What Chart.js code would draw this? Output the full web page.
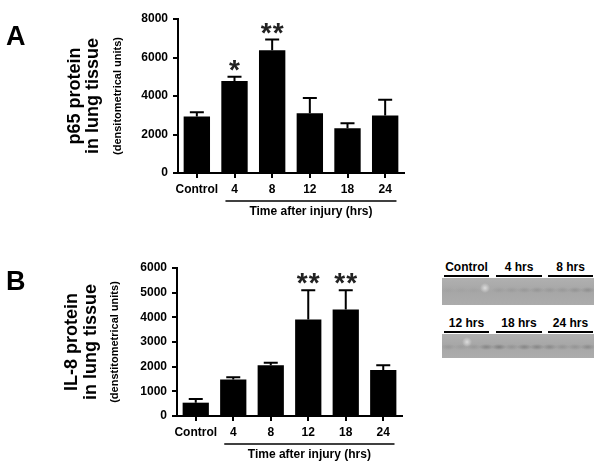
<!DOCTYPE html>
<html>
<head>
<meta charset="utf-8">
<script src="https://cdn.jsdelivr.net/npm/chart.js@4.4.1/dist/chart.umd.min.js"></script>
<style>
  body { margin: 0; background: #fff; width: 600px; height: 464px; position: relative; overflow: hidden;
         font-family: "Liberation Sans", Arial, sans-serif; }
  #chartA { position: absolute; left: 0; top: 0; }
  #chartB { position: absolute; left: 0; top: 240px; }
  .lbl { position: absolute; height: 13px; line-height: 13px; padding-bottom: 1px; text-align: center;
         font-weight: bold; font-size: 12px; border-bottom: 2px solid #000; }
  .band { position: absolute; left: 442px; }
</style>
</head>
<body>
<canvas id="chartA" width="420" height="230"></canvas>
<canvas id="chartB" width="420" height="224"></canvas>

<div class="lbl" style="left:444px; top:261px; width:45px;">Control</div>
<div class="lbl" style="left:496px; top:261px; width:46px;">4 hrs</div>
<div class="lbl" style="left:548px; top:261px; width:45px;">8 hrs</div>
<canvas class="band" id="blot1" width="152" height="27" style="top:278px;"></canvas>

<div class="lbl" style="left:444px; top:317px; width:45px;">12 hrs</div>
<div class="lbl" style="left:496px; top:317px; width:46px;">18 hrs</div>
<div class="lbl" style="left:548px; top:317px; width:45px;">24 hrs</div>
<canvas class="band" id="blot2" width="152" height="24" style="top:334px;"></canvas>

<script>
// categories and values
const categories = ['Control', '4', '8', '12', '18', '24'];

// A: p65 protein
const p65Mean = [2930, 4780, 6380, 3110, 2330, 2990];
const p65Err  = [230, 220, 550, 790, 260, 810];
const p65Sig  = [0, 1, 2, 0, 0, 0];

// B: IL-8 protein
const il8Mean = [540, 1480, 2060, 3910, 4320, 1860];
const il8Err  = [150, 90, 100, 1190, 780, 200];
const il8Sig  = [0, 0, 0, 2, 2, 0];

// blot lane darkness (12 lanes per strip)
const blotLanes1 = [0.05, 0.05, 0.05, 0.0, 0.1, 0.12, 0.15, 0.18, 0.15, 0.15, 0.2, 0.25];
const blotLanes2 = [0.15, 0.1, 0.15, 0.35, 0.4, 0.2, 0.35, 0.35, 0.3, 0.2, 0.2, 0.3];

Chart.defaults.font.family = '"Liberation Sans", Arial, sans-serif';
Chart.defaults.color = '#000';

// error bars, asterisks, titles
const decoPlugin = {
    id: 'deco',
    afterDatasetsDraw(chart, args, opts) {
        const ctx = chart.ctx;
        const x = chart.scales.x;
        const y = chart.scales.y;
        const area = chart.chartArea;
        ctx.save();
        ctx.strokeStyle = '#000';
        ctx.fillStyle = '#000';
        ctx.lineWidth = 2;

        // error bars (upper only)
        opts.mean.forEach(function(v, i) {
            let xc = x.getPixelForValue(i);
            let yBar = y.getPixelForValue(v);
            let yTop = y.getPixelForValue(v + opts.err[i]);
            ctx.beginPath();
            ctx.moveTo(xc, yBar);
            ctx.lineTo(xc, yTop);
            ctx.moveTo(xc - 7, yTop);
            ctx.lineTo(xc + 7, yTop);
            ctx.stroke();

            // asterisks
            if (opts.sig[i] > 0) {
                ctx.font = 'bold 28px "Liberation Sans", Arial, sans-serif';
                ctx.fillStyle = '#222';
                ctx.textAlign = 'center';
                ctx.textBaseline = 'alphabetic';
                let n = opts.sig[i];
                for (let k = 0; k < n; k++) {
                    let ax = xc + (k - (n - 1) / 2) * 12;
                    ctx.fillText('*', ax, yTop + 2);
                }
                ctx.fillStyle = '#000';
            }
        });

        // y axis title, three lines rotated
        let cy = (area.top + area.bottom) / 2;
        opts.title.forEach(function(t, i) {
            ctx.save();
            ctx.translate(opts.titleX[i], cy);
            ctx.rotate(-Math.PI / 2);
            ctx.font = i < 2 ? 'bold 18px "Liberation Sans", Arial, sans-serif'
                             : 'bold 11px "Liberation Sans", Arial, sans-serif';
            ctx.textAlign = 'center';
            ctx.textBaseline = 'middle';
            ctx.fillText(t, 0, 0);
            ctx.restore();
        });

        // panel letter
        ctx.font = 'bold 27px "Liberation Sans", Arial, sans-serif';
        ctx.textAlign = 'left';
        ctx.textBaseline = 'alphabetic';
        ctx.fillText(opts.letter, 6, opts.letterY);

        // underline for time points and x title
        let step = x.getPixelForValue(1) - x.getPixelForValue(0);
        let x1 = x.getPixelForValue(1) - 0.24 * step;
        let x2 = x.getPixelForValue(5) + 0.3 * step;
        ctx.lineWidth = 1.5;
        ctx.beginPath();
        ctx.moveTo(x1, area.bottom + 28);
        ctx.lineTo(x2, area.bottom + 28);
        ctx.stroke();
        ctx.font = 'bold 12px "Liberation Sans", Arial, sans-serif';
        ctx.textAlign = 'center';
        ctx.textBaseline = 'middle';
        ctx.fillText('Time after injury (hrs)', (x1 + x2) / 2, area.bottom + 39);
        ctx.restore();
    }
};

function makeChart(id, mean, err, sig, yMax, yStep, pad, axisW, axisH, title, titleX, letter, letterY) {
    const ctx = document.getElementById(id).getContext('2d');
    return new Chart(ctx, {
        type: 'bar',
        data: {
            labels: categories,
            datasets: [{
                data: mean,
                backgroundColor: '#000',
                borderWidth: 0,
                barPercentage: 0.7,
                categoryPercentage: 1
            }]
        },
        options: {
            responsive: false,
            animation: false,
            layout: { padding: pad },
            plugins: {
                legend: { display: false },
                tooltip: { enabled: false },
                deco: {
                    mean: mean, err: err, sig: sig,
                    title: title, titleX: titleX,
                    letter: letter, letterY: letterY
                }
            },
            scales: {
                x: {
                    afterFit: function(s) { s.height = axisH; },
                    grid: { display: true, drawOnChartArea: false, offset: false, color: '#000', lineWidth: 2, tickLength: 5 },
                    border: { display: true, color: '#000', width: 2 },
                    ticks: { font: { size: 12, weight: 'bold' }, padding: 4, maxRotation: 0, autoSkip: false }
                },
                y: {
                    min: 0,
                    max: yMax,
                    afterFit: function(s) { s.width = axisW; },
                    grid: { display: true, drawOnChartArea: false, color: '#000', lineWidth: 2, tickLength: 5 },
                    border: { display: true, color: '#000', width: 2 },
                    ticks: {
                        stepSize: yStep,
                        font: { size: 12, weight: 'bold' },
                        padding: 5,
                        callback: function(value) { return String(value); }
                    }
                }
            }
        },
        plugins: [decoPlugin]
    });
}

makeChart('chartA', p65Mean, p65Err, p65Sig, 8000, 2000,
    { top: 19, right: 16, left: 0, bottom: 0 }, 178, 57,
    ['p65 protein', 'in lung tissue', '(densitometrical units)'], [75, 93, 118], 'A', 45);

makeChart('chartB', il8Mean, il8Err, il8Sig, 6000, 1000,
    { top: 28, right: 18, left: 0, bottom: 0 }, 177, 48,
    ['IL-8 protein', 'in lung tissue', '(denstitometrical units)'], [72, 91, 115], 'B', 50);

// western blot strips
function drawBlot(id, lanes, bandY, spot) {
    const c = document.getElementById(id);
    const ctx = c.getContext('2d');
    let g = ctx.createLinearGradient(0, 0, 0, c.height);
    g.addColorStop(0, '#b0b0b0');
    g.addColorStop(0.5, '#a6a6a6');
    g.addColorStop(1, '#acacac');
    ctx.fillStyle = g;
    ctx.fillRect(0, 0, c.width, c.height);
    let w = c.width / lanes.length;
    lanes.forEach(function(a, i) {
        let cx = (i + 0.5) * w;
        let rg = ctx.createRadialGradient(cx, bandY, 0, cx, bandY, w * 0.6);
        rg.addColorStop(0, 'rgba(70,70,70,' + a + ')');
        rg.addColorStop(1, 'rgba(70,70,70,0)');
        ctx.fillStyle = rg;
        ctx.save();
        ctx.translate(cx, bandY);
        ctx.scale(1, 0.4);
        ctx.translate(-cx, -bandY);
        ctx.fillRect(cx - w, bandY - w, 2 * w, 2 * w);
        ctx.restore();
    });
    let sg = ctx.createRadialGradient(spot[0], spot[1], 0, spot[0], spot[1], 5);
    sg.addColorStop(0, 'rgba(225,225,225,0.9)');
    sg.addColorStop(1, 'rgba(225,225,225,0)');
    ctx.fillStyle = sg;
    ctx.fillRect(spot[0] - 6, spot[1] - 6, 12, 12);
}
drawBlot('blot1', blotLanes1, 12, [43, 10]);
drawBlot('blot2', blotLanes2, 13, [25, 8]);
</script>
</body>
</html>
